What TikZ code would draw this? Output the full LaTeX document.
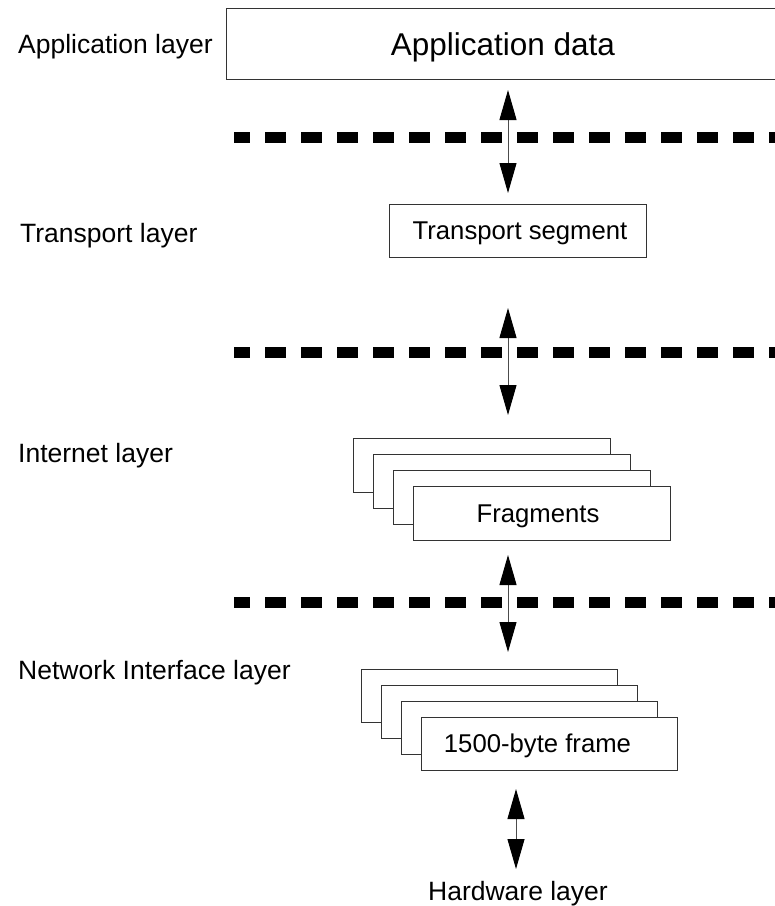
\documentclass[tikz,border=0pt]{standalone}
\usepackage{fontspec}
\setmainfont{Liberation Sans}
\usetikzlibrary{arrows.meta}
\begin{document}
\begin{tikzpicture}[x=1pt,y=-1pt,
  box/.style={draw=black!80,line width=1pt,fill=white,inner sep=0pt,anchor=north west},
  lbl/.style={anchor=base west,inner sep=0pt,font=\fontsize{26.5}{31}\selectfont},
  txt/.style={anchor=base,inner sep=0pt,font=\fontsize{25.7}{30}\selectfont},
  sepline/.style={line width=11pt,dash pattern=on 21pt off 15pt,dash phase=5pt},
  updown/.style={line width=1pt,black!70,{Triangle[length=30pt,width=17pt,color=black]}-{Triangle[length=30pt,width=17pt,color=black]}}
]
\useasboundingbox (0,0) rectangle (775,906);

% left labels
\node[lbl] (lapp) at (18,53) {Application layer};
\node[lbl] (ltr) at (20,242) {Transport layer};
\node[lbl] (lint) at (18,462) {Internet layer};
\node[lbl] (lnet) at (18,679) {Network Interface layer};

% application data
\node[box,minimum width=560pt,minimum height=71pt] (app) at (226,8) {};
\node[anchor=base,inner sep=0pt,font=\fontsize{31.5}{36}\selectfont] (appt) at (503,55) {Application data};

% transport segment
\node[box,minimum width=257pt,minimum height=53pt] (tr) at (389,204) {};
\node[txt] (trt) at (520,239.5) {Transport segment};

% fragments stack
\node[box,minimum width=257pt,minimum height=54pt] (f1) at (353,438) {};
\node[box,minimum width=257pt,minimum height=54pt] (f2) at (373,454) {};
\node[box,minimum width=257pt,minimum height=54pt] (f3) at (393,470) {};
\node[box,minimum width=257pt,minimum height=54pt] (f4) at (413,486) {};
\node[txt] (f4t) at (538,522) {Fragments};

% frame stack
\node[box,minimum width=256pt,minimum height=53pt] (n1) at (361,669) {};
\node[box,minimum width=256pt,minimum height=53pt] (n2) at (381,685) {};
\node[box,minimum width=256pt,minimum height=53pt] (n3) at (401,701) {};
\node[box,minimum width=256pt,minimum height=53pt] (n4) at (421,717) {};
\node[txt] (n4t) at (537.5,752.5) {1500-byte frame};

% hardware
\node[anchor=base,inner sep=0pt,font=\fontsize{26.5}{31}\selectfont] (hw) at (518,900) {Hardware layer};

% separators
\coordinate (s1a) at (234,137.5); \coordinate (s1b) at (775,137.5);
\coordinate (s2a) at (234,352);   \coordinate (s2b) at (775,352);
\coordinate (s3a) at (234,602);   \coordinate (s3b) at (775,602);
\draw[sepline] (s1a) -- (s1b);
\draw[sepline] (s2a) -- (s2b);
\draw[sepline] (s3a) -- (s3b);

% arrows
\coordinate (a1t) at (508,90);  \coordinate (a1b) at (508,193);
\coordinate (a2t) at (508,308); \coordinate (a2b) at (508,415);
\coordinate (a3t) at (508,555); \coordinate (a3b) at (508,652);
\coordinate (a4t) at (516,789); \coordinate (a4b) at (516,869);
\draw[updown] (a1t) -- (a1b);
\draw[updown] (a2t) -- (a2b);
\draw[updown] (a3t) -- (a3b);
\draw[updown] (a4t) -- (a4b);
\end{tikzpicture}
\end{document}
